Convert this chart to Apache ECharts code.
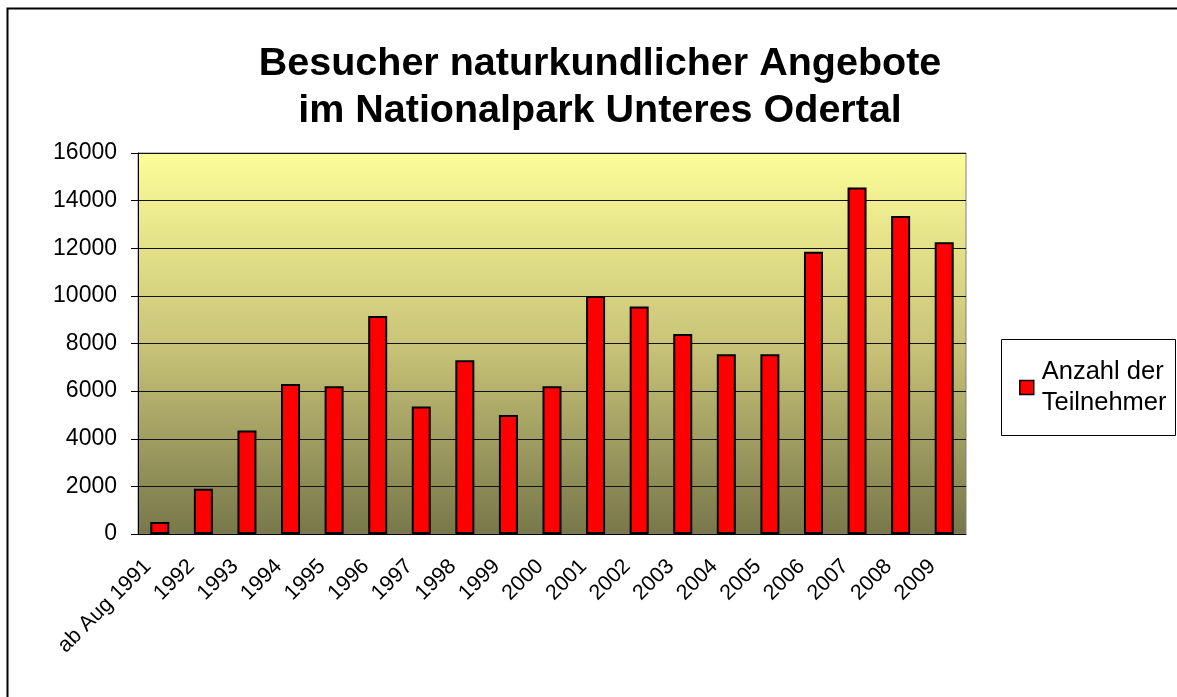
<!DOCTYPE html>
<html>
<head>
<meta charset="utf-8">
<script src="https://cdn.jsdelivr.net/npm/echarts@6/dist/echarts.min.js"></script>
<style>
  html, body { margin: 0; padding: 0; background: #fff; }
  #chart { width: 1177px; height: 697px; }
</style>
</head>
<body>
<div id="chart"></div>
<script>
// Besucher naturkundlicher Angebote
const years = ['ab Aug 1991', '1992', '1993', '1994', '1995', '1996', '1997', '1998', '1999', '2000',
  '2001', '2002', '2003', '2004', '2005', '2006', '2007', '2008', '2009']
const teilnehmer = [500, 1900, 4350, 6300, 6200, 9150, 5350, 7300, 5000, 6200,
  10000, 9550, 8400, 7550, 7550, 11850, 14550, 13350, 12250]
const yTicks = [0, 2000, 4000, 6000, 8000, 10000, 12000, 14000, 16000]

const seriesName = 'Anzahl der\nTeilnehmer'
const fontFamily = '"Liberation Sans", Arial, sans-serif'

const chart = echarts.init(document.getElementById('chart'), null, { renderer: 'canvas' })

chart.setOption({
  animation: false,
  backgroundColor: '#fff',
  textStyle: { fontFamily: fontFamily },
  title: {
    text: 'Besucher naturkundlicher Angebote\nim Nationalpark Unteres Odertal',
    left: 595,
    top: 36,
    textAlign: 'center',
    textStyle: {
      fontFamily: fontFamily,
      fontSize: 39.5,
      fontWeight: 'bold',
      color: '#000',
      lineHeight: 47
    }
  },
  grid: {
    left: 138,
    right: 211,
    top: 153,
    bottom: 163,
    show: true,
    borderColor: '#808080',
    borderWidth: 1,
    backgroundColor: new echarts.graphic.LinearGradient(0, 0, 0, 1, [
      { offset: 0, color: '#FDFD99' },
      { offset: 0.5, color: '#C9C478' },
      { offset: 1, color: '#77774A' }
    ])
  },
  legend: {
    data: [seriesName],
    left: 1019,
    top: 341,
    orient: 'vertical',
    icon: 'rect',
    itemWidth: 14,
    itemHeight: 14,
    itemGap: 0,
    padding: 0,
    itemStyle: { borderColor: '#000', borderWidth: 1.5 },
    textStyle: {
      fontFamily: fontFamily,
      fontSize: 25.5,
      lineHeight: 31,
      color: '#000',
      padding: [31, 0, 0, 3]
    }
  },
  xAxis: {
    type: 'category',
    data: years,
    axisLine: { lineStyle: { color: '#000', width: 1 } },
    axisTick: { length: 7, lineStyle: { color: '#000' } },
    axisLabel: {
      rotate: 45,
      margin: 17,
      padding: [0, 17, 0, 0],
      fontSize: 21.5,
      color: '#000',
      interval: 0
    }
  },
  yAxis: {
    type: 'value',
    min: yTicks[0],
    max: yTicks[yTicks.length - 1],
    interval: 2000,
    axisLine: { show: true, lineStyle: { color: '#000', width: 1 } },
    axisTick: { show: true, length: 7, lineStyle: { color: '#000' } },
    axisLabel: {
      margin: 21,
      fontSize: 23,
      color: '#000',
      formatter: function (v) { return String(v) }
    },
    splitLine: { lineStyle: { color: '#111', width: 1 } }
  },
  series: [
    {
      name: seriesName,
      type: 'bar',
      data: teilnehmer,
      barWidth: 19,
      itemStyle: {
        color: '#FF0000',
        borderColor: '#000',
        borderWidth: 2
      }
    }
  ],
  graphic: [
    {
      type: 'rect',
      shape: { x: 7.5, y: 8.5, width: 1300, height: 800 },
      style: { fill: 'none', stroke: '#000', lineWidth: 2 },
      silent: true
    },
    {
      type: 'rect',
      shape: { x: 1001.5, y: 339.5, width: 174, height: 96 },
      style: { fill: 'none', stroke: '#000', lineWidth: 1 },
      silent: true,
      z: 10
    }
  ]
})
</script>
</body>
</html>
